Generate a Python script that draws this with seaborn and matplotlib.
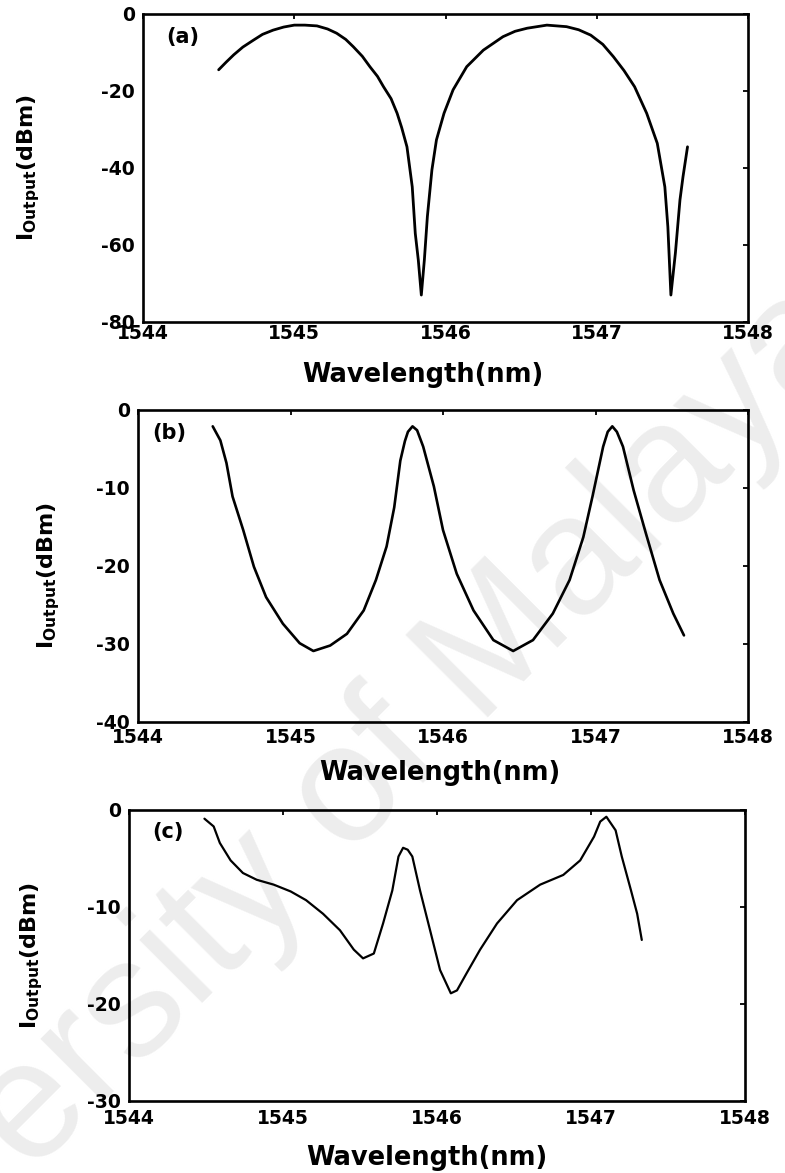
import matplotlib
matplotlib.use("Agg")
import matplotlib.pyplot as plt
import seaborn as sns
import pandas as pd

# ---------------- data ----------------
wl_a = [1544.50, 1544.55, 1544.60, 1544.66, 1544.73, 1544.79, 1544.86, 1544.93, 1545.00,
        1545.07, 1545.15, 1545.22, 1545.28, 1545.34, 1545.39, 1545.45, 1545.50, 1545.55,
        1545.59, 1545.64, 1545.68, 1545.71, 1545.745, 1545.78, 1545.80, 1545.82, 1545.84,
        1545.86, 1545.88, 1545.91, 1545.94, 1545.99, 1546.05, 1546.14, 1546.25, 1546.38,
        1546.46, 1546.54, 1546.67, 1546.80, 1546.88, 1546.96, 1547.04, 1547.11, 1547.18,
        1547.25, 1547.33, 1547.40, 1547.45, 1547.47, 1547.49, 1547.52, 1547.55, 1547.57,
        1547.60]
out_a = [-14.5, -12.5, -10.6, -8.6, -6.8, -5.3, -4.2, -3.4, -2.9,
         -2.9, -3.1, -3.9, -5.0, -6.6, -8.5, -11.0, -13.7, -16.2,
         -18.9, -22.0, -25.8, -29.5, -34.5, -44.9, -57.0, -63.9, -73.0,
         -63.9, -52.6, -40.5, -32.7, -25.8, -19.7, -13.7, -9.4, -5.9,
         -4.5, -3.7, -2.9, -3.3, -4.1, -5.5, -7.9, -11.1, -14.7,
         -18.9, -25.8, -33.6, -44.9, -55.3, -73.0, -62.0, -48.3, -42.3,
         -34.5]

wl_b = [1544.49, 1544.54, 1544.58, 1544.62, 1544.69, 1544.76, 1544.84, 1544.95, 1545.06,
        1545.15, 1545.26, 1545.37, 1545.48, 1545.56, 1545.63, 1545.68, 1545.72, 1545.75,
        1545.77, 1545.80, 1545.83, 1545.87, 1545.94, 1546.00, 1546.09, 1546.20, 1546.33,
        1546.46, 1546.59, 1546.72, 1546.83, 1546.92, 1546.98, 1547.05, 1547.08, 1547.11,
        1547.14, 1547.18, 1547.25, 1547.33, 1547.42, 1547.51, 1547.58]
out_b = [-2.1, -3.9, -6.8, -11.1, -15.4, -20.1, -24.0, -27.4, -29.9,
         -30.9, -30.2, -28.7, -25.7, -21.8, -17.5, -12.5, -6.5, -4.0,
         -2.8, -2.1, -2.6, -4.7, -9.8, -15.4, -21.0, -25.7, -29.5,
         -30.9, -29.5, -26.1, -21.8, -16.3, -11.1, -4.7, -2.8, -2.1,
         -2.8, -4.7, -10.3, -15.8, -21.8, -26.1, -28.9]

wl_c = [1544.49, 1544.55, 1544.59, 1544.66, 1544.74, 1544.83, 1544.94, 1545.05, 1545.15,
        1545.26, 1545.37, 1545.46, 1545.52, 1545.59, 1545.65, 1545.71, 1545.75, 1545.78,
        1545.81, 1545.84, 1545.89, 1545.96, 1546.02, 1546.09, 1546.13, 1546.19, 1546.28,
        1546.39, 1546.52, 1546.67, 1546.82, 1546.93, 1547.02, 1547.06, 1547.10, 1547.16,
        1547.20, 1547.26, 1547.30, 1547.33]
out_c = [-0.9, -1.7, -3.4, -5.2, -6.5, -7.2, -7.7, -8.4, -9.3,
         -10.7, -12.4, -14.4, -15.3, -14.8, -11.7, -8.3, -4.8, -3.9,
         -4.1, -4.8, -8.3, -12.7, -16.5, -18.9, -18.6, -16.9, -14.4,
         -11.7, -9.3, -7.7, -6.7, -5.2, -2.75, -1.2, -0.7, -2.1,
         -4.8, -8.3, -10.7, -13.4]

x_ticks = [1544, 1545, 1546, 1547, 1548]
y_ticks_a = [0, -20, -40, -60, -80]
y_ticks_b = [0, -10, -20, -30, -40]
y_ticks_c = [0, -10, -20, -30]
panel_tags = ["(a)", "(b)", "(c)"]
x_title = "Wavelength(nm)"
y_title = r"I$_{\mathbf{Output}}$(dBm)"
watermark = "University of Malaya"

# ---------------- style ----------------
sns.set_theme(style="white")
plt.rcParams["font.family"] = ["DejaVu Sans"]
plt.rcParams["axes.unicode_minus"] = False
plt.rcParams["mathtext.fontset"] = "dejavusans"
plt.rcParams["mathtext.default"] = "bf"

fig = plt.figure(figsize=(7.85, 11.73), dpi=100)
fig.patch.set_facecolor("white")

fig.text(0.378, 0.277, watermark, rotation=45, rotation_mode="anchor",
         ha="center", va="center", fontsize=121, color="#ededed",
         family=["Liberation Sans", "DejaVu Sans"], zorder=-10)

panels = [
    dict(pos=[0.1822, 0.7255, 0.7707, 0.2626], wl=wl_a, val=out_a, yt=y_ticks_a,
         lw=2.0, xpad=1.5, xl=(0.463, -0.13), yl=(-0.167, 0.5), tag=(0.038, 0.925)),
    dict(pos=[0.1758, 0.3845, 0.7771, 0.2660], wl=wl_b, val=out_b, yt=y_ticks_b,
         lw=1.9, xpad=4.0, xl=(0.495, -0.122), yl=(-0.125, 0.47), tag=(0.023, 0.926)),
    dict(pos=[0.1643, 0.0614, 0.7847, 0.2481], wl=wl_c, val=out_c, yt=y_ticks_c,
         lw=1.6, xpad=5.5, xl=(0.484, -0.151), yl=(-0.136, 0.5), tag=(0.037, 0.924)),
]

for p, tag in zip(panels, panel_tags):
    ax = fig.add_axes(p["pos"])
    ax.set_facecolor("none")
    df = pd.DataFrame({"wl": p["wl"], "val": p["val"]})
    sns.lineplot(data=df, x="wl", y="val", ax=ax, color="black", lw=p["lw"],
                 sort=False, estimator=None)
    ax.set_xlim(1544, 1548)
    ax.set_ylim(p["yt"][-1], 0)
    ax.set_xticks(x_ticks)
    ax.set_yticks(p["yt"])
    ax.set_xticklabels([str(t) for t in x_ticks], fontsize=13.5, fontweight="bold")
    ax.set_yticklabels([str(t) for t in p["yt"]], fontsize=13.5, fontweight="bold")
    ax.tick_params(axis="both", direction="in", length=3.5, width=1.3, color="black",
                   top=True, right=True, labelcolor="black")
    ax.tick_params(axis="x", pad=p["xpad"])
    ax.tick_params(axis="y", pad=6)
    for s in ax.spines.values():
        s.set_visible(True)
        s.set_color("black")
        s.set_linewidth(1.9)
    ax.set_xlabel(x_title, fontsize=18.5, fontweight="bold", color="black")
    ax.set_ylabel(y_title, fontsize=16, fontweight="bold", color="black")
    ax.xaxis.set_label_coords(*p["xl"])
    ax.yaxis.set_label_coords(*p["yl"])
    ax.text(p["tag"][0], p["tag"][1], tag, transform=ax.transAxes, ha="left",
            va="center", fontsize=15, fontweight="bold", color="black")
    ax.grid(False)

fig.savefig("out.png", dpi=100, facecolor="white")
